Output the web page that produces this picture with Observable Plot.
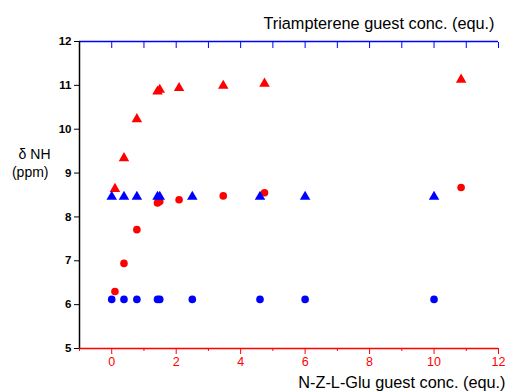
<!DOCTYPE html>
<html>
<head>
<meta charset="utf-8">
<script src="https://cdn.jsdelivr.net/npm/d3@7"></script>
<script src="https://cdn.jsdelivr.net/npm/@observablehq/plot@0.6"></script>
<style>
  html, body { margin: 0; padding: 0; background: #fff; }
</style>
</head>
<body>
<div id="chart"></div>
<script>
// Triampterene (blue, top axis) series
const blueX = [0, 0.38, 0.78, 1.42, 1.49, 2.5, 4.6, 6.0, 10.0];
const blueCircleY = [6.12, 6.12, 6.12, 6.12, 6.12, 6.12, 6.12, 6.12, 6.12];
const blueTriangleY = [8.46, 8.46, 8.46, 8.46, 8.46, 8.46, 8.46, 8.46, 8.46];
// N-Z-L-Glu (red, bottom axis) series
const redX = [0.1, 0.38, 0.78, 1.42, 1.49, 2.09, 3.46, 4.74, 10.84];
const redCircleY = [6.30, 6.94, 7.71, 8.32, 8.35, 8.39, 8.48, 8.55, 8.67];
const redTriangleY = [8.64, 9.34, 10.23, 10.86, 10.90, 10.94, 10.99, 11.04, 11.13];

const xMajorTicks = [0, 2, 4, 6, 8, 10, 12];
const xMinorTicks = [-1, 1, 3, 5, 7, 9, 11];
const topTicks = [0, 1, 2, 3, 4, 5, 6, 7, 8, 9, 10, 11, 12];
const yTicks = [5, 6, 7, 8, 9, 10, 11, 12];

const topTitle = "Triampterene guest conc. (equ.)";
const bottomTitle = "N-Z-L-Glu guest conc. (equ.)";
const yTitle1 = "δ NH";
const yTitle2 = "(ppm)";

const pts = (xs, ys) => xs.map((x, i) => ({x, y: ys[i]}));

const chart = Plot.plot({
  width: 509,
  height: 391,
  marginLeft: 79,
  marginRight: 11,
  marginTop: 41,
  marginBottom: 43,
  style: {fontFamily: "'Liberation Sans', Arial, sans-serif", background: "#fff"},
  x: {domain: [-1, 12]},
  y: {domain: [5, 12]},
  marks: [
    // left axis
    Plot.axisY(yTicks, {anchor: "left", tickSize: 5, tickPadding: 3, fontSize: 11.5, fontWeight: "bold", color: "#000", label: null}),
    // bottom axis (red)
    Plot.axisX(xMajorTicks, {anchor: "bottom", tickSize: 6, tickPadding: 3, fontSize: 12.5, color: "#ff0000", label: null}),
    Plot.axisX(xMinorTicks, {anchor: "bottom", tickSize: 3, tickFormat: () => "", color: "#ff0000", label: null}),
    // top axis (blue), inward ticks
    Plot.axisX(topTicks, {anchor: "top", tickSize: 6, dy: 6, tickFormat: () => "", color: "#0000ff", label: null}),
    Plot.ruleY([12], {stroke: "#0000ff", strokeWidth: 1.3}),
    Plot.ruleY([5], {stroke: "#ff0000", strokeWidth: 1.3}),
    Plot.ruleX([-1], {stroke: "#000", strokeWidth: 1.5}),
    // data
    Plot.dot(pts(redX, redCircleY), {x: "x", y: "y", r: 3.8, fill: "#ff0000", symbol: "circle"}),
    Plot.dot(pts(redX, redTriangleY), {x: "x", y: "y", r: 3.9, fill: "#ff0000", symbol: "triangle"}),
    Plot.dot(pts(blueX, blueCircleY), {x: "x", y: "y", r: 3.8, fill: "#0000ff", symbol: "circle"}),
    Plot.dot(pts(blueX, blueTriangleY), {x: "x", y: "y", r: 3.9, fill: "#0000ff", symbol: "triangle"}),
    // titles
    Plot.text([topTitle], {frameAnchor: "top-right", textAnchor: "end", lineAnchor: "bottom", dx: -4, dy: -13, fontSize: 16.3, fill: "#000"}),
    Plot.text([bottomTitle], {frameAnchor: "bottom-right", textAnchor: "end", lineAnchor: "bottom", dx: 7, dy: 39, fontSize: 16.3, fill: "#000"}),
    Plot.text([yTitle1], {frameAnchor: "left", textAnchor: "end", dx: -29, dy: -40, fontSize: 14, fill: "#000"}),
    Plot.text([yTitle2], {frameAnchor: "left", textAnchor: "end", dx: -31, dy: -22, fontSize: 14, fill: "#000"})
  ]
});
document.getElementById("chart").appendChild(chart);
</script>
</body>
</html>
